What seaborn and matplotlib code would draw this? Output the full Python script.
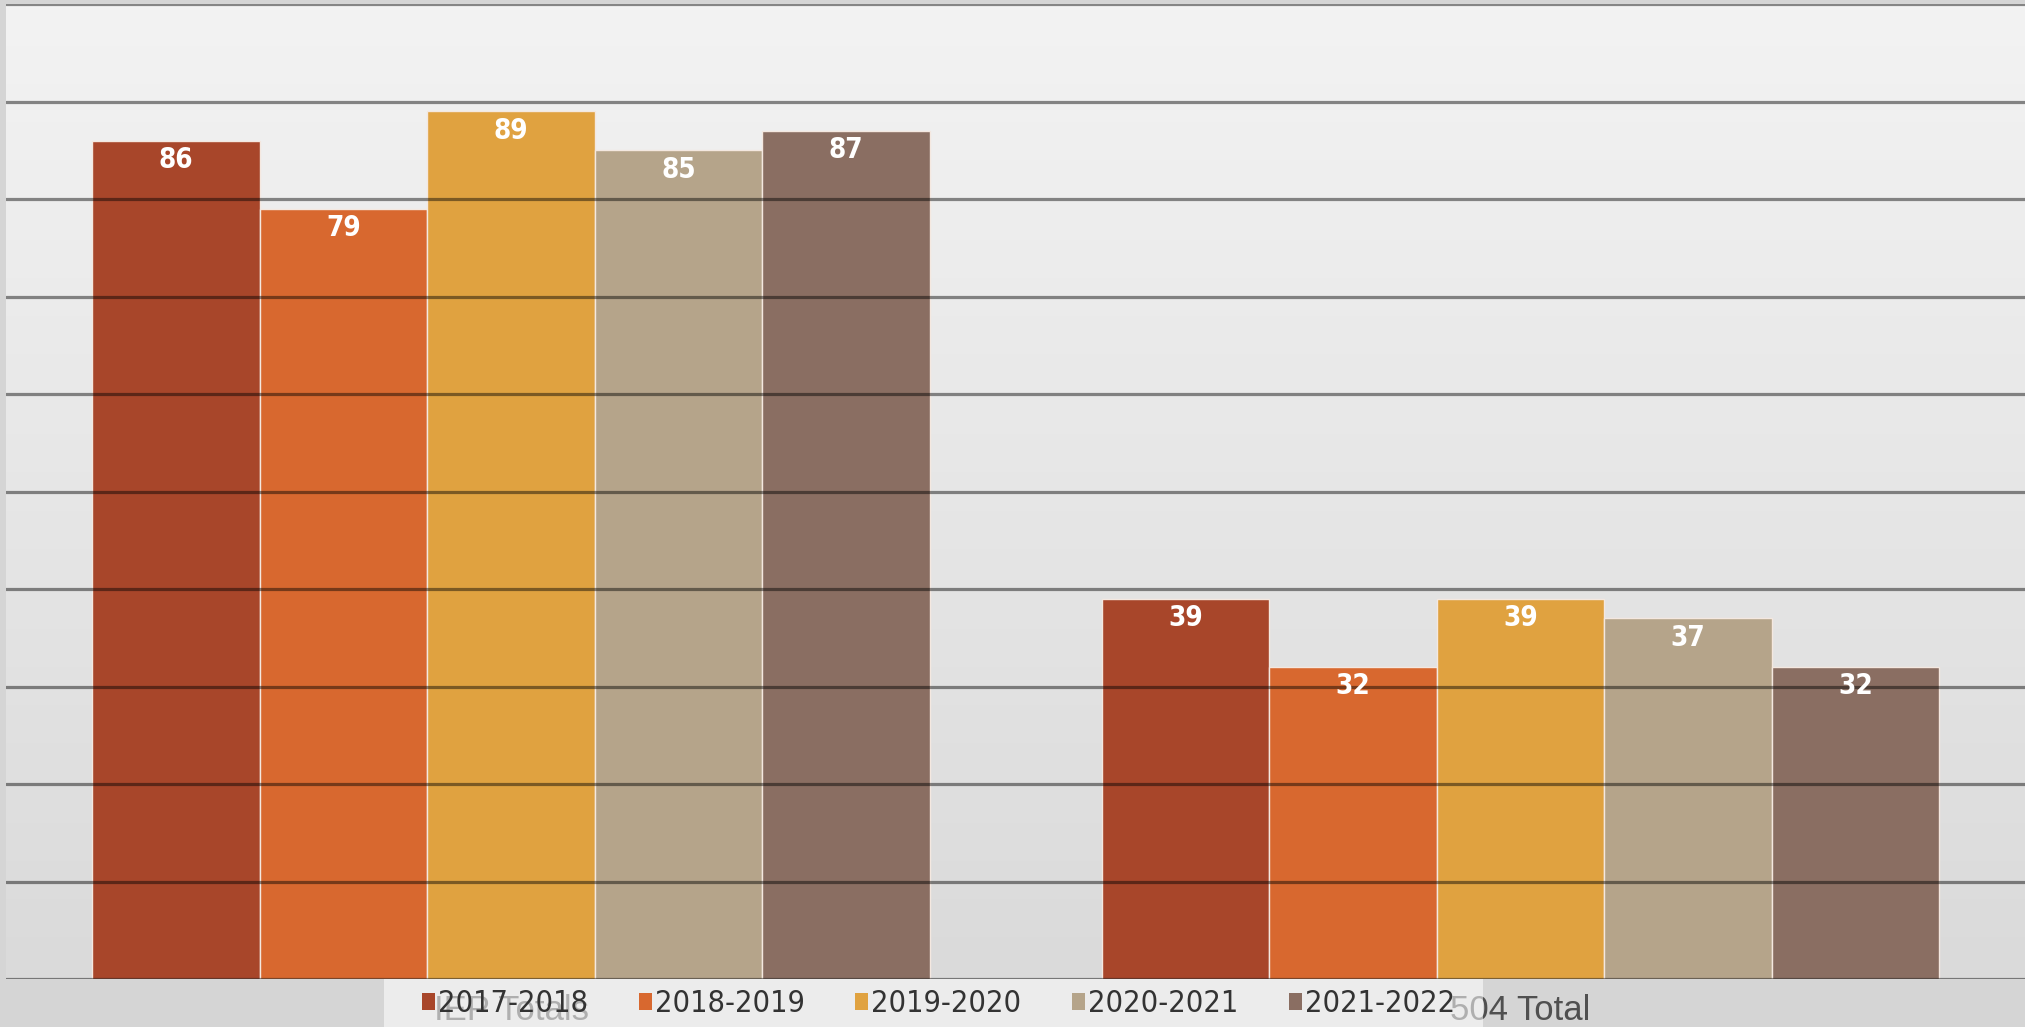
import matplotlib
matplotlib.use("Agg")
import matplotlib.pyplot as plt
import matplotlib.patches as mpatches
import numpy as np
import pandas as pd
import seaborn as sns

categories = ["IEP Totals", "504 Total"]
years = ["2017-2018", "2018-2019", "2019-2020", "2020-2021", "2021-2022"]
iep_values = [86, 79, 89, 85, 87]
s504_values = [39, 32, 39, 37, 32]
colors = ["#A8462A", "#D8682F", "#E0A240", "#B5A48A", "#8A6E62"]
yticks = [0, 10, 20, 30, 40, 50, 60, 70, 80, 90, 100]

rows = []
for y, v in zip(years, iep_values):
    rows.append({"cat": categories[0], "year": y, "val": v})
for y, v in zip(years, s504_values):
    rows.append({"cat": categories[1], "year": y, "val": v})
df = pd.DataFrame(rows)

sns.set_theme(style="white")
plt.rcParams["font.family"] = ["DejaVu Sans"]

fig = plt.figure(figsize=(20.25, 10.27), dpi=100)
fig.patch.set_facecolor("#d5d5d5")
ax = fig.add_axes([0.0032, 0.0467, 0.9968, 0.9493])

grad = np.linspace(0, 1, 256).reshape(-1, 1)
ax.imshow(grad, extent=[0, 1, 0, 1], transform=ax.transAxes, aspect="auto",
          cmap=matplotlib.colors.LinearSegmentedColormap.from_list("g", ["#f3f3f3", "#dadada"]),
          zorder=0, origin="upper")

sns.barplot(data=df, x="cat", y="val", hue="year", hue_order=years, order=categories,
            palette=colors, width=0.83, gap=0, ax=ax, edgecolor="#f4e8e0", linewidth=1.0,
            saturation=1, legend=False, zorder=2)

ax.set_xlim(-0.5, 1.5)
ax.set_ylim(0, 100)
ax.set_yticks(yticks)
ax.set_yticklabels([])
for t in yticks:
    ax.axhline(t, color="black", alpha=0.45, lw=2.3, zorder=3)

for c in ax.containers:
    ax.bar_label(c, padding=-24, color="white", fontweight="bold", fontsize=20,
                 fontstretch="condensed", zorder=4)

ax.set_xlabel("")
ax.set_ylabel("")
ax.tick_params(axis="x", length=0, pad=11, labelcolor="#505050")
for lab in ax.get_xticklabels():
    lab.set_fontfamily(["Liberation Sans", "DejaVu Sans"])
    lab.set_fontsize(25)
ax.tick_params(axis="y", length=0)
for s in ax.spines.values():
    s.set_visible(False)
ax.set_facecolor("none")

band = mpatches.Rectangle((384 / 2025, 0), (1483 - 384) / 2025, 0.0467,
                          transform=fig.transFigure, facecolor="white", alpha=0.55,
                          edgecolor="none", zorder=2)
fig.add_artist(band)

handles = [mpatches.Patch(facecolor=c, edgecolor="none") for c in colors]
leg = fig.legend(handles, years, loc="center", bbox_to_anchor=(0.4635, 0.0225), ncol=5,
                 frameon=False, prop={"family": "DejaVu Sans", "size": 22, "stretch": "condensed"},
                 handlelength=0.43, handleheight=0.43,
                 handletextpad=0.1, columnspacing=1.65, labelcolor="#333333")
leg.set_zorder(5)

fig.savefig("out.png", dpi=100, facecolor=fig.get_facecolor())
